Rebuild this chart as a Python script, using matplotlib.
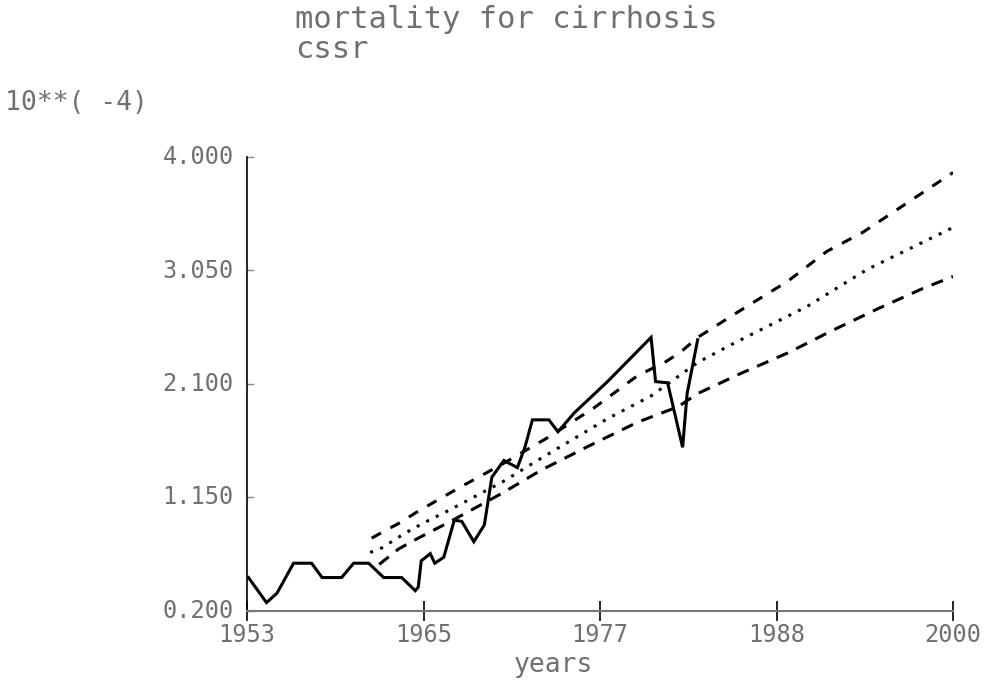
import matplotlib
matplotlib.use("Agg")
import matplotlib.pyplot as plt
import numpy as np

# observed mortality (units of 10**-4)
obs_years = [1953.1, 1954.3, 1955.0, 1956.1, 1957.3, 1958.0, 1959.3, 1960.1,
             1961.1, 1962.1, 1963.3, 1964.2, 1964.4, 1964.6, 1965.2, 1965.5,
             1966.1, 1966.8, 1967.3, 1968.1, 1968.8, 1969.3, 1970.1, 1971.0,
             1971.5, 1972.0, 1973.1, 1973.7, 1974.8, 1977.0, 1979.9, 1980.2,
             1981.0, 1982.0, 1982.3, 1983.0]
obs_values = [0.48, 0.27, 0.35, 0.60, 0.60, 0.48, 0.48, 0.60,
              0.60, 0.48, 0.48, 0.37, 0.40, 0.62, 0.68, 0.60,
              0.65, 0.96, 0.95, 0.78, 0.92, 1.32, 1.46, 1.40,
              1.57, 1.80, 1.80, 1.70, 1.86, 2.12, 2.49, 2.12,
              2.11, 1.57, 2.02, 2.47]

# forecasts
upper_years = [1961.3, 1962.3, 1963.2, 1964.2, 1965.3, 1967.1, 1970.0, 1973.0,
               1976.1, 1979.0, 1980.8, 1981.9, 1983.0, 1985.9, 1989.0, 1991.6,
               1994.0, 1997.0, 2000.0]
upper_values = [0.81, 0.88, 0.94, 1.02, 1.10, 1.23, 1.43, 1.65,
                1.90, 2.17, 2.28, 2.37, 2.49, 2.72, 2.96, 3.21,
                3.37, 3.62, 3.87]

mid_years = [1961.2, 1962.0, 1963.5, 1964.8, 1966.4, 1970.0, 1972.6, 1977.0,
             1979.9, 1983.0, 1985.4, 1990.3, 1994.3, 2000.0]
mid_values = [0.69, 0.73, 0.85, 0.94, 1.04, 1.28, 1.48, 1.81,
              2.00, 2.28, 2.44, 2.75, 3.06, 3.41]

lower_years = [1961.8, 1963.1, 1964.4, 1966.4, 1969.9, 1972.6, 1975.9, 1979.0,
               1981.7, 1983.0, 1985.9, 1989.0, 1992.0, 1995.0, 1998.0, 2000.0]
lower_values = [0.59, 0.72, 0.81, 0.94, 1.18, 1.38, 1.59, 1.78,
                1.91, 2.02, 2.19, 2.36, 2.55, 2.73, 2.90, 3.00]

x_ticks = [1953, 1964.75, 1976.5, 1988.25, 2000]
x_tick_labels = ["1953", "1965", "1977", "1988", "2000"]
y_ticks = [0.2, 1.15, 2.1, 3.05, 4.0]
y_tick_labels = ["0.200", "1.150", "2.100", "3.050", "4.000"]

W, H = 1005, 683
fig = plt.figure(figsize=(W / 100, H / 100), dpi=100)
ax = fig.add_axes([247 / W, (H - 611) / H, (953 - 247) / W, (611 - 157) / H])

lw = 2.2
ax.plot(obs_years, obs_values, color="black", lw=lw, solid_joinstyle="miter")
ax.plot(upper_years, upper_values, color="black", lw=lw, linestyle=(0, (3.5, 3.5)))
ax.plot(mid_years, mid_values, color="black", lw=lw, linestyle=(0, (1.0, 2.5)))
ax.plot(lower_years, lower_values, color="black", lw=lw, linestyle=(0, (4, 3)))

ax.set_xlim(1953, 2000)
ax.set_ylim(0.2, 4.0)

for s in ["top", "right"]:
    ax.spines[s].set_visible(False)
ax.spines["left"].set_color("black")
ax.spines["left"].set_linewidth(1.2)
ax.spines["bottom"].set_color("#777777")
ax.spines["bottom"].set_linewidth(1.5)
ax.spines["bottom"].set_linestyle((0, (1, 1)))

mono = "DejaVu Sans Mono"
txt_color = "#707070"

ax.set_xticks(x_ticks)
ax.set_xticklabels(x_tick_labels, fontfamily=mono, fontsize=17, color=txt_color)
ax.set_yticks(y_ticks)
ax.set_yticklabels(y_tick_labels, fontfamily=mono, fontsize=17, color=txt_color)
ax.tick_params(axis="x", direction="inout", length=14, width=1.2, color="black", pad=2)
ax.tick_params(axis="y", left=False, right=False, pad=6)
for t in ax.get_yticklabels():
    t.set_verticalalignment("center")

# small y tick marks sticking out right of the axis
for yv in y_ticks:
    ax.plot([1953, 1953.4], [yv, yv], color="#888888", lw=1, clip_on=False)

fig.text(295 / W, 1 - 20 / H, "mortality for cirrhosis", fontfamily=mono,
         fontsize=22, color=txt_color, ha="left", va="center")
fig.text(295 / W, 1 - 50 / H, "cssr", fontfamily=mono,
         fontsize=22, color=txt_color, ha="left", va="center")
fig.text(5 / W, 1 - 103 / H, "10**( -4)", fontfamily=mono,
         fontsize=19, color=txt_color, ha="left", va="center")
fig.text(553 / W, 1 - 665 / H, "years", fontfamily=mono,
         fontsize=19, color=txt_color, ha="center", va="center")

fig.savefig("out.png", dpi=100, facecolor="white")
